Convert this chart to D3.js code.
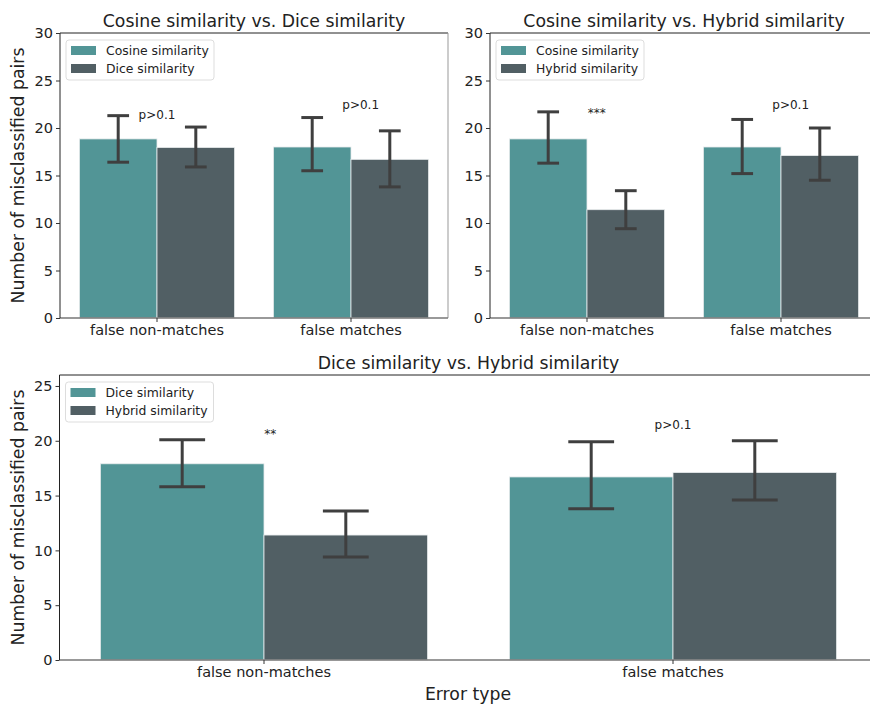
<!DOCTYPE html>
<html>
<head>
<meta charset="utf-8">
<script src="https://cdn.jsdelivr.net/npm/d3@7/dist/d3.min.js"></script>
<style>
  body { margin: 0; background: #fff; }
  svg { font-family: "DejaVu Sans", sans-serif; }
</style>
</head>
<body>
<svg id="chart" width="870" height="704"></svg>
<script>
// categories on the x axis
const errorTypes = ["false non-matches", "false matches"];

// panel 1: Cosine vs Dice
const p1Series = ["Cosine similarity", "Dice similarity"];
const p1Values = [[18.85, 18.0], [17.95, 16.7]];       // [series][category]
const p1Low    = [[16.4, 15.5], [15.9, 13.8]];
const p1High   = [[21.3, 21.1], [20.1, 19.7]];
const p1Notes  = [{text: "p>0.1", x: 0, y: 21.4}, {text: "p>0.1", x: 1.05, y: 22.4}];

// panel 2: Cosine vs Hybrid
const p2Series = ["Cosine similarity", "Hybrid similarity"];
const p2Values = [[18.85, 18.0], [11.4, 17.1]];
const p2Low    = [[16.3, 15.2], [9.4, 14.5]];
const p2High   = [[21.7, 20.9], [13.4, 20.0]];
const p2Notes  = [{text: "***", x: 0.05, y: 21.6}, {text: "p>0.1", x: 1.05, y: 22.4}];

// panel 3: Dice vs Hybrid
const p3Series = ["Dice similarity", "Hybrid similarity"];
const p3Values = [[17.9, 16.7], [11.4, 17.1]];
const p3Low    = [[15.8, 13.8], [9.4, 14.6]];
const p3High   = [[20.1, 19.9], [13.6, 20.0]];
const p3Notes  = [{text: "**", x: 0.015, y: 20.6}, {text: "p>0.1", x: 1.0, y: 21.4}];

const colors = ["#529596", "#515f64"];

const svg = d3.select("#chart");

function drawPanel(o) {
  const g = svg.append("g");
  const x = d3.scaleBand().domain(errorTypes).range([o.x0, o.x1]).paddingInner(0.2).paddingOuter(0.1);
  const xs = d3.scaleBand().domain(o.series).range([0, x.bandwidth()]);
  const y = d3.scaleLinear().domain([0, o.ymax]).range([o.y1, o.y0]);

  // bars
  o.series.forEach((s, si) => {
    g.selectAll(null).data(errorTypes).join("rect")
      .attr("x", d => x(d) + xs(s))
      .attr("y", (d, i) => y(o.values[si][i]))
      .attr("width", xs.bandwidth())
      .attr("height", (d, i) => y(0) - y(o.values[si][i]))
      .attr("fill", colors[si])
      .attr("stroke", "#e8eced").attr("stroke-width", 0.8);
  });

  // error bars
  const cap = xs.bandwidth() * 0.14;
  o.series.forEach((s, si) => {
    errorTypes.forEach((d, i) => {
      const cx = x(d) + xs(s) + xs.bandwidth() / 2;
      const lo = y(o.low[si][i]), hi = y(o.high[si][i]);
      const eg = g.append("g").attr("stroke", "#3f3f3f").attr("stroke-width", 3);
      eg.append("line").attr("x1", cx).attr("x2", cx).attr("y1", lo).attr("y2", hi);
      eg.append("line").attr("x1", cx - cap).attr("x2", cx + cap).attr("y1", lo).attr("y2", lo);
      eg.append("line").attr("x1", cx - cap).attr("x2", cx + cap).attr("y1", hi).attr("y2", hi);
    });
  });

  // annotations
  const step = x.step();
  g.selectAll(null).data(o.notes).join("text")
    .attr("x", d => x(errorTypes[0]) + x.bandwidth() / 2 + d.x * step)
    .attr("y", d => y(d.y) + 4)
    .attr("text-anchor", "middle")
    .attr("font-size", 12).attr("fill", "#222")
    .text(d => d.text);

  // spines
  g.append("line").attr("x1", o.x0).attr("x2", o.x1).attr("y1", o.y0).attr("y2", o.y0).attr("stroke", "#222");
  g.append("line").attr("x1", o.x1).attr("x2", o.x1).attr("y1", o.y0).attr("y2", o.y1).attr("stroke", "#999");
  g.append("line").attr("x1", o.x0).attr("x2", o.x1).attr("y1", o.y1).attr("y2", o.y1).attr("stroke", "#777").attr("stroke-width", 1.6);
  g.append("line").attr("x1", o.x0).attr("x2", o.x0).attr("y1", o.y0).attr("y2", o.y1).attr("stroke", "#222");

  // axes
  const yAx = g.append("g").attr("transform", `translate(${o.x0},0)`)
    .call(d3.axisLeft(y).tickValues(d3.range(0, o.ymax + 0.01, 5)).tickSize(4).tickPadding(3));
  yAx.select(".domain").remove();
  yAx.selectAll("text").attr("font-size", 14.5).attr("fill", "#222").attr("font-family", "DejaVu Sans");
  yAx.selectAll("line").attr("stroke", "#333");

  const xAx = g.append("g").attr("transform", `translate(0,${o.y1})`)
    .call(d3.axisBottom(x).tickSize(4).tickPadding(3));
  xAx.select(".domain").remove();
  xAx.selectAll("text").attr("font-size", 14.5).attr("fill", "#222").attr("font-family", "DejaVu Sans");
  xAx.selectAll("line").attr("stroke", "#333");

  // title
  g.append("text").attr("x", (o.x0 + o.x1) / 2).attr("y", o.y0 - 6)
    .attr("text-anchor", "middle").attr("font-size", 17.3).attr("fill", "#222").text(o.title);

  // y label
  if (o.ylabel) {
    g.append("text")
      .attr("transform", `translate(${o.x0 - 36},${(o.y0 + o.y1) / 2}) rotate(-90)`)
      .attr("text-anchor", "middle").attr("font-size", 17.3).attr("fill", "#222").text(o.ylabel);
  }

  // legend
  const lg = g.append("g").attr("transform", `translate(${o.x0 + 6},${o.y0 + 7})`);
  lg.append("rect").attr("width", 148).attr("height", 40).attr("rx", 3)
    .attr("fill", "#fff").attr("fill-opacity", 0.8).attr("stroke", "#ddd");
  o.series.forEach((s, si) => {
    lg.append("rect").attr("x", 5).attr("y", 6 + si * 18).attr("width", 25).attr("height", 9).attr("fill", colors[si]);
    lg.append("text").attr("x", 40).attr("y", 15 + si * 18).attr("font-size", 12.4).attr("fill", "#222").text(s);
  });
}

drawPanel({x0: 60, x1: 448, y0: 33, y1: 318, ymax: 30, series: p1Series, values: p1Values, low: p1Low, high: p1High,
  notes: p1Notes, title: "Cosine similarity vs. Dice similarity", ylabel: "Number of misclassified pairs"});
drawPanel({x0: 490, x1: 878, y0: 33, y1: 318, ymax: 30, series: p2Series, values: p2Values, low: p2Low, high: p2High,
  notes: p2Notes, title: "Cosine similarity vs. Hybrid similarity"});
drawPanel({x0: 59.5, x1: 877.5, y0: 375, y1: 660, ymax: 26, series: p3Series, values: p3Values, low: p3Low, high: p3High,
  notes: p3Notes, title: "Dice similarity vs. Hybrid similarity", ylabel: "Number of misclassified pairs"});

// shared x label
svg.append("text").attr("x", 468).attr("y", 700).attr("text-anchor", "middle")
  .attr("font-size", 17.3).attr("fill", "#222").text("Error type");
</script>
</body>
</html>
